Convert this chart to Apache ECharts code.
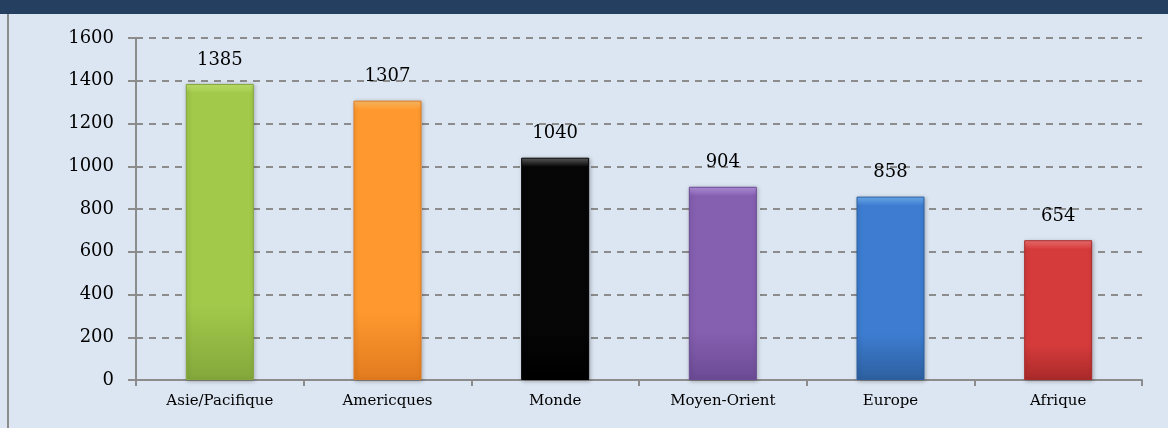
<!DOCTYPE html>
<html>
<head>
<meta charset="utf-8">
<script src="https://cdn.jsdelivr.net/npm/echarts@6/dist/echarts.min.js"></script>
<style>
  html, body { margin: 0; padding: 0; background: #dce6f2; }
  #chart { width: 1168px; height: 428px; }
</style>
</head>
<body>
<div id="chart"></div>
<script>
  // data
  var regions = ['Asie/Pacifique', 'Americques', 'Monde', 'Moyen-Orient', 'Europe', 'Afrique']
  var counts = [1385, 1307, 1040, 904, 858, 654]
  var yTicks = [0, 200, 400, 600, 800, 1000, 1200, 1400, 1600]

  // [top light, body, bottom dark]
  var palette = [
    ['#c3e570', '#a2c94a', '#84a83c'],
    ['#ffbe66', '#ff992f', '#e27b1e'],
    ['#606060', '#060606', '#000000'],
    ['#b594e0', '#855fb0', '#6c4b95'],
    ['#6fb0f2', '#3d7cd0', '#2d60a0'],
    ['#f27070', '#d53b3b', '#aa2a2a']
  ]
  var font = 'DejaVu Serif'
  var plotH = 342 // px height of the plot area, used for a fixed-size bevel

  var chart = echarts.init(document.getElementById('chart'))

  var barData = counts.map(function (v, i) {
    var c = palette[i]
    var bevel = 9 / (v / yTicks[yTicks.length - 1] * plotH)
    return {
      value: v,
      itemStyle: {
        color: new echarts.graphic.LinearGradient(0, 0, 0, 1, [
          { offset: 0, color: c[0] },
          { offset: bevel, color: c[1] },
          { offset: 0.75, color: c[1] },
          { offset: 1, color: c[2] }
        ]),
        borderColor: c[2],
        borderWidth: 1,
        shadowColor: 'rgba(0,0,0,0.25)',
        shadowBlur: 4,
        shadowOffsetX: 1,
        shadowOffsetY: 1
      }
    }
  })

  chart.setOption({
    backgroundColor: '#dce6f2',
    animation: false,
    graphic: [
      { type: 'rect', left: 0, top: 0, shape: { width: 1168, height: 14 }, style: { fill: '#243f60' } },
      { type: 'rect', left: 7, top: 14, shape: { width: 2, height: 414 }, style: { fill: '#8c8c8c' } }
    ],
    grid: { left: 136, right: 26, top: 38, bottom: 48 },
    xAxis: {
      type: 'category',
      data: regions,
      axisLine: { lineStyle: { color: '#8c8c8c', width: 2 } },
      axisTick: { show: true, length: 6, lineStyle: { color: '#8c8c8c', width: 2 } },
      axisLabel: { color: '#000', fontFamily: font, fontSize: 15, margin: 14 }
    },
    yAxis: {
      type: 'value',
      min: yTicks[0],
      max: yTicks[yTicks.length - 1],
      interval: yTicks[1] - yTicks[0],
      axisLine: { show: true, lineStyle: { color: '#8c8c8c', width: 2 } },
      axisTick: { show: true, length: 8, lineStyle: { color: '#8c8c8c', width: 2 } },
      axisLabel: { color: '#000', fontFamily: font, fontSize: 18, margin: 22, formatter: function (v) { return String(v) } },
      splitLine: { lineStyle: { color: '#8c8c8c', width: 2, type: [7, 6] } }
    },
    series: [{
      type: 'bar',
      data: barData,
      barWidth: 68,
      label: {
        show: true,
        position: 'top',
        distance: 15,
        color: '#000',
        fontFamily: font,
        fontSize: 18
      }
    }]
  })
</script>
</body>
</html>
